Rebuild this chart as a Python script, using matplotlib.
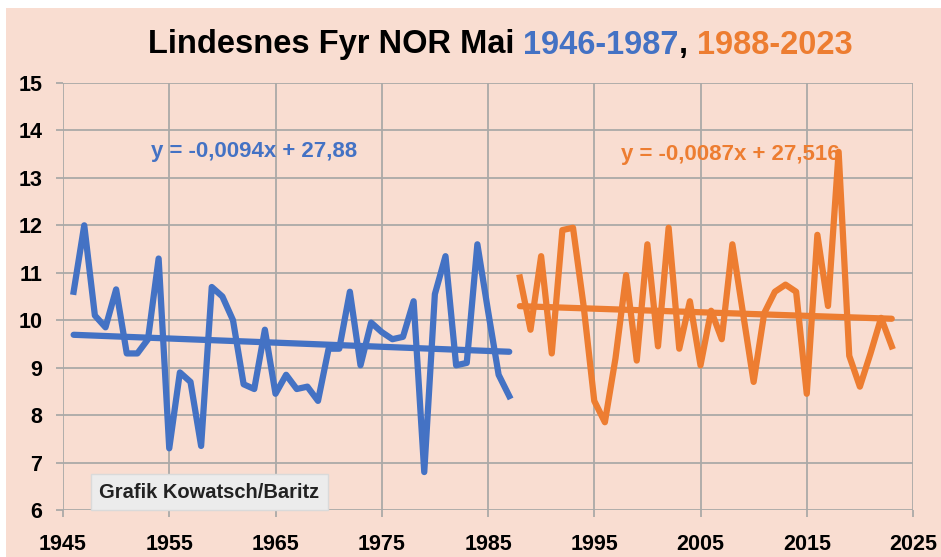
import matplotlib
matplotlib.use("Agg")
import matplotlib.pyplot as plt
import numpy as np

# Lindesnes Fyr, May mean temperature
years_a = list(range(1946, 1988))
temps_a = [10.6, 12.0, 10.1, 9.85, 10.65, 9.3, 9.3, 9.6, 11.3, 7.3,
           8.9, 8.7, 7.35, 10.7, 10.5, 10.0, 8.65, 8.55, 9.8, 8.45,
           8.85, 8.55, 8.6, 8.3, 9.4, 9.4, 10.6, 9.05, 9.95, 9.75,
           9.6, 9.65, 10.4, 6.8, 10.55, 11.35, 9.05, 9.1, 11.6, 10.2,
           8.85, 8.4]
years_b = list(range(1988, 2024))
temps_b = [10.9, 9.8, 11.35, 9.3, 11.9, 11.95, 10.3, 8.3, 7.85, 9.2,
           10.95, 9.15, 11.6, 9.45, 11.95, 9.4, 10.4, 9.05, 10.2, 9.6,
           11.6, 10.15, 8.7, 10.15, 10.6, 10.75, 10.6, 8.45, 11.8, 10.3,
           13.55, 9.25, 8.6, 9.3, 10.05, 9.45]

trend_a_label = "y = -0,0094x + 27,88"
trend_b_label = "y = -0,0087x + 27,516"
xticks = list(range(1945, 2026, 10))
yticks = list(range(6, 16))

BLUE = "#4472C4"
ORANGE = "#ED7D31"
BG = "#F9DDD1"
GRID = "#ABA9A7"

plt.rcParams['font.family'] = ['Liberation Sans', 'DejaVu Sans']

fig = plt.figure(figsize=(9.41, 5.57), dpi=100)
fig.patch.set_facecolor("white")
# peach panel with a thin white margin on top and left
fig.patches.append(plt.Rectangle((6 / 941, 0), 1, 1 - 8 / 557, transform=fig.transFigure,
                                 facecolor=BG, edgecolor="none", zorder=-5))

ax = fig.add_axes([63 / 941, 1 - 510 / 557, 850 / 941, 427 / 557])
ax.set_facecolor(BG)

# data lines
ax.plot(years_a, temps_a, color=BLUE, lw=4.5, solid_joinstyle="round", zorder=3)
ax.plot(years_b, temps_b, color=ORANGE, lw=4.5, solid_joinstyle="round", zorder=3)

# linear trends
for yrs, vals, c in [(years_a, temps_a, BLUE), (years_b, temps_b, ORANGE)]:
    k, d = np.polyfit(yrs, vals, 1)
    xs = np.array([yrs[0], yrs[-1]])
    ax.plot(xs, k * xs + d, color=c, lw=4.5, solid_capstyle="round", zorder=3)

ax.text(1963.0, 13.55, trend_a_label, color=BLUE, fontsize=16, fontweight="bold",
        ha="center", va="center", zorder=4)
ax.text(2007.8, 13.49, trend_b_label, color=ORANGE, fontsize=16, fontweight="bold",
        ha="center", va="center", zorder=4)

ax.set_xlim(1945, 2025)
ax.set_ylim(6, 15)
ax.set_xticks(xticks)
ax.set_yticks(yticks)
ax.grid(True, color=GRID, lw=1.3, zorder=1)
ax.set_axisbelow(True)
for s in ax.spines.values():
    s.set_visible(False)
ax.tick_params(axis="both", length=5, width=1.3, color=GRID, labelsize=15.5)
ax.tick_params(axis="x", pad=12)
ax.tick_params(axis="y", pad=10)
for lab in ax.get_xticklabels() + ax.get_yticklabels():
    lab.set_fontweight("bold")

# copyright box
ax.text(1948.4, 6.37, "Grafik Kowatsch/Baritz", fontsize=14.5, fontweight="bold",
        color="#222222", ha="left", va="center", zorder=5,
        bbox=dict(boxstyle="square,pad=0.42", facecolor="#ECECEC", edgecolor="#DADADA"))

# multicolour title
parts = [("Lindesnes Fyr NOR Mai ", "black"), ("1946-1987", BLUE), (", ", "black"),
         ("1988-2023", ORANGE)]
fig.canvas.draw()
r = fig.canvas.get_renderer()
objs = []
for s, c in parts:
    objs.append(fig.text(0, 1 - 45 / 557, s, color=c, fontsize=23.5, fontweight="bold",
                         va="center", ha="left"))
widths = [o.get_window_extent(r).width for o in objs]
x0 = (500 - sum(widths) / 2) / 941
for o, w in zip(objs, widths):
    o.set_x(x0)
    x0 += w / 941

fig.savefig("out.png", dpi=100, facecolor=fig.get_facecolor())
